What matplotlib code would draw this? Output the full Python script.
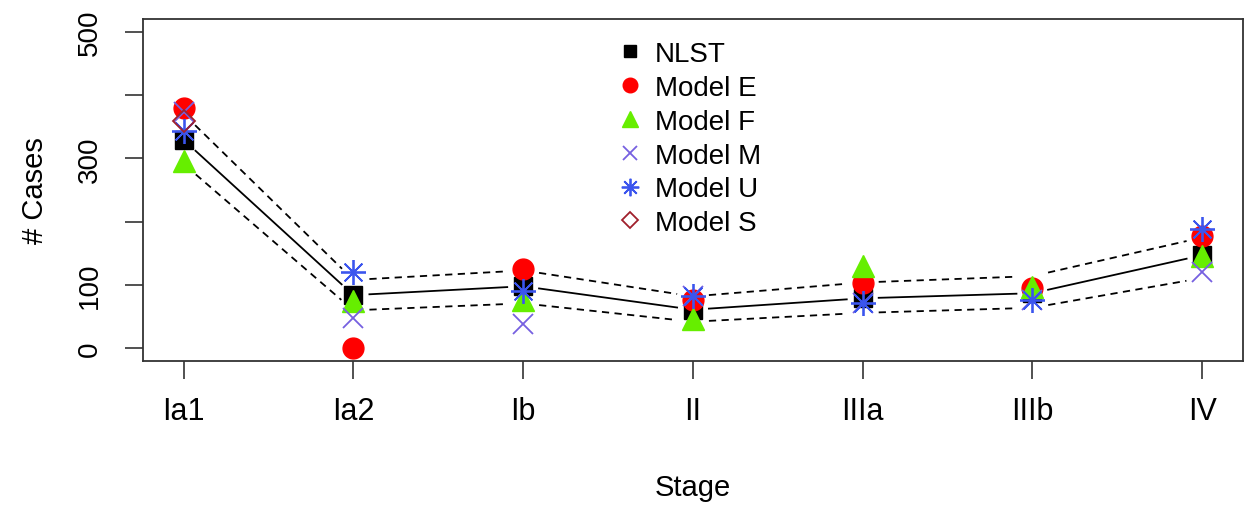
import numpy as np
import matplotlib
matplotlib.use("Agg")
import matplotlib.pyplot as plt

plt.rcParams['font.family'] = ['Liberation Sans', 'DejaVu Sans']

stages = ['Ia1', 'Ia2', 'Ib', 'II', 'IIIa', 'IIIb', 'IV']
nlst = [329, 84, 98, 61, 79, 87, 147]
nlst_upper = [370, 108, 123, 82, 104, 114, 175]
nlst_lower = [291, 60, 71, 42, 56, 64, 111]
model_e = [379, 0, 126, 77, 103, 96, 177]
model_f = [295, 74, 77, 46, 130, 97, 146]
model_m = [373, 48, 38, 82, 72, 77, 120]
model_u = [343, 120, 90, 82, 72, 77, 189]
model_s = [359, np.nan, np.nan, np.nan, np.nan, np.nan, np.nan]

x = np.arange(1, len(stages) + 1)

fig = plt.figure(figsize=(12.55, 5.06), dpi=100)
ax = fig.add_axes([0.1139, 0.2846, 0.8765, 0.6759])
ax.set_xlim(0.76, 7.24)
ax.set_ylim(-20, 520)


def gapped_line(ax, xs, ys, gap=16, **kw):
    # R type="b": segments stop short of the points
    to_px = ax.transData
    from_px = ax.transData.inverted()
    pts = to_px.transform(np.column_stack([xs, ys]))
    for p0, p1 in zip(pts[:-1], pts[1:]):
        d = p1 - p0
        u = d / np.hypot(*d)
        seg = from_px.transform(np.array([p0 + u * gap, p1 - u * gap]))
        ax.plot(seg[:, 0], seg[:, 1], **kw)


gapped_line(ax, x, nlst, color='black', lw=1.3)
gapped_line(ax, x, nlst_upper, color='black', lw=1.3, ls=(0, (4, 3)))
gapped_line(ax, x, nlst_lower, color='black', lw=1.3, ls=(0, (4, 3)))

ax.plot(x, nlst, 's', color='black', ms=12.5, ls='none', label='NLST')
ax.plot(x, model_e, 'o', color='#ff0000', ms=15, ls='none', label='Model E')
ax.plot(x, model_f, '^', color='#66ee00', ms=16, ls='none', label='Model F')
ax.plot(x, model_m, 'x', color='#7660e0', ms=14.5, mew=1.3, ls='none', label='Model M')
ax.plot(x, model_u, marker=(8, 2, 0), color='#3b55ee', ms=18, mew=1.3, ls='none', label='Model U')
ax.plot(x, model_s, 'D', color='#a0202c', mfc='none', ms=11.5, mew=1.3, ls='none', label='Model S')

ax.set_xticks(x)
ax.set_xticklabels(stages)
ax.set_yticks([0, 100, 200, 300, 400, 500])
ax.set_yticklabels(['0', '100', '', '300', '', '500'], rotation=90, va='center')
ax.tick_params(axis='both', length=13, width=1.2, color='#333333', direction='out')
ax.tick_params(axis='x', pad=12, labelsize=22)
ax.tick_params(axis='y', pad=16, labelsize=20)
for s in ax.spines.values():
    s.set_color('#333333')
    s.set_linewidth(1.3)

ax.set_xlabel('Stage', fontsize=21, labelpad=34)
ax.set_ylabel('# Cases', fontsize=21, labelpad=20)

ax.legend(loc='upper left', bbox_to_anchor=(0.41, 1.0), frameon=False, fontsize=20,
          markerscale=0.7, handlelength=1.0, handletextpad=0.4, labelspacing=0.28,
          numpoints=1, borderaxespad=0.4)

fig.savefig('out.png', dpi=100)
